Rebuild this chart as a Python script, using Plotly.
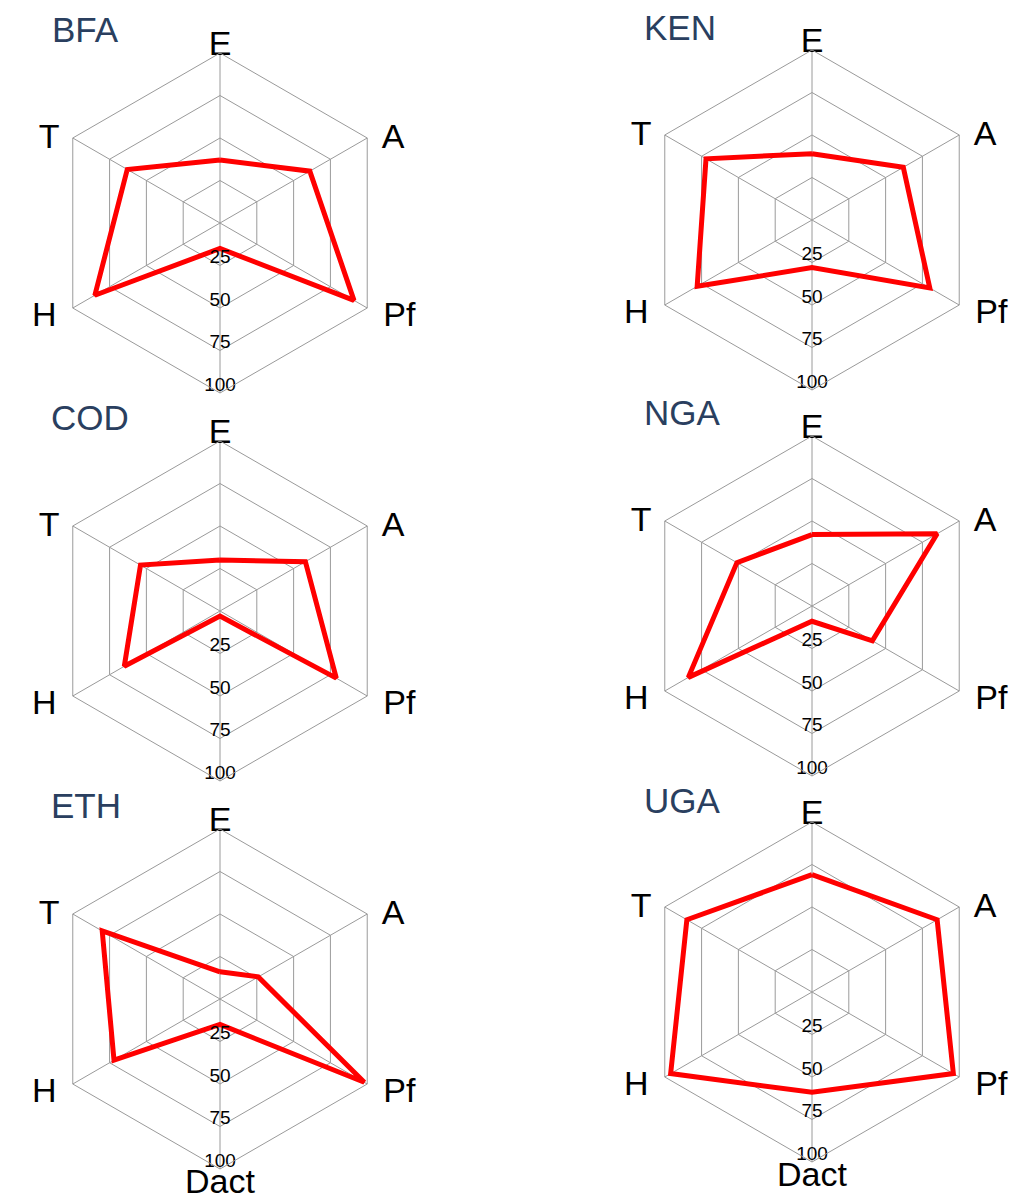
import plotly.graph_objects as go

# ---- data ----
categories = ["E", "A", "Pf", "Dact", "H", "T"]
countries = ["BFA", "KEN", "COD", "NGA", "ETH", "UGA"]
bfa = [37, 61, 91, 15, 85, 63]
ken = [39, 62, 80, 28, 78, 72]
cod = [30, 58, 79, 3, 65, 54]
nga = [42, 85, 41, 9, 84, 51]
eth = [16, 26, 98, 15, 72, 80]
uga = [69, 85, 96, 59, 96, 85]
values = [bfa, ken, cod, nga, eth, uga]
radial_ticks = [25, 50, 75, 100]

# ---- layout geometry (screen pixels; page has an 8px body margin) ----
OFF = 8
W, H = 1013, 1186
R = 170
centers = [(220, 223), (812, 220), (220, 611), (812, 606), (220, 999), (812, 992)]
title_pos = [(50, 29), (642, 27), (49, 417), (642, 412), (49, 805), (642, 800)]
FONT = "Liberation Sans, Arial, Helvetica, sans-serif"
LABEL_PX = 34
TICK_PX = 19


def px(x):
    return (x - OFF) / W


def py(y):
    return 1 - (y - OFF) / H


def span(txt, size):
    return f'<span style="font-size:{size}px">{txt}</span>'


NB = "\u00a0"
# per-category label placement: (textposition, offset font size, text)
label_spec = {
    "E": ("middle center", 8, span("E", LABEL_PX)),
    "A": ("middle right", 40, span(NB, 52) + span("A", LABEL_PX)),
    "Pf": ("middle right", 72, span(NB, 58) + span("Pf", LABEL_PX)),
    "Dact": ("bottom center", 32, span("Dact", LABEL_PX)),
    "H": ("middle left", 72, span("H", LABEL_PX) + span(NB, 58)),
    "T": ("middle left", 40, span("T", LABEL_PX) + span(NB, 48)),
}

fig = go.Figure()
layout = dict(
    width=W, height=H,
    margin=dict(l=0, r=0, t=0, b=0),
    paper_bgcolor="white",
    showlegend=False,
    font=dict(family=FONT, color="black"),
    annotations=[],
)

for i, (name, vals) in enumerate(zip(countries, values)):
    pid = "polar" if i == 0 else f"polar{i+1}"
    cx, cy = centers[i]
    fig.add_trace(go.Scatterpolar(
        r=vals + [vals[0]],
        theta=categories + [categories[0]],
        mode="lines",
        line=dict(color="#ff0000", width=5),
        subplot=pid,
        hoverinfo="skip",
    ))
    # angular (category) labels at the outer ring
    for cat in categories:
        pos, fsz, txt = label_spec[cat]
        clipped = (cat == "Dact" and i < 4)  # cut off in the upper rows
        fig.add_trace(go.Scatterpolar(
            r=[100], theta=[cat], mode="text", text=[txt],
            textposition=pos,
            textfont=dict(size=fsz, color="black", family=FONT),
            cliponaxis=clipped, subplot=pid, hoverinfo="skip",
        ))
    # radial tick labels along the Dact spoke
    fig.add_trace(go.Scatterpolar(
        r=radial_ticks, theta=["Dact"] * len(radial_ticks), mode="text",
        text=[span(str(v), TICK_PX) for v in radial_ticks],
        textposition="top center",
        textfont=dict(size=10, color="black", family=FONT),
        cliponaxis=False, subplot=pid, hoverinfo="skip",
    ))
    layout[pid] = dict(
        domain=dict(x=[px(cx - R), px(cx + R)], y=[py(cy + R), py(cy - R)]),
        gridshape="linear",
        bgcolor="white",
        angularaxis=dict(
            rotation=90, direction="clockwise",
            categoryorder="array", categoryarray=categories,
            showline=True, linecolor="#9a9a9a", linewidth=1,
            gridcolor="#9a9a9a", gridwidth=1,
            ticks="", showticklabels=False,
        ),
        radialaxis=dict(
            range=[0, 100], angle=-90,
            tickvals=radial_ticks,
            showline=False, ticks="", showticklabels=False,
            gridcolor="#9a9a9a", gridwidth=1,
        ),
    )
    tx, ty = title_pos[i]
    layout["annotations"].append(dict(
        text=name, x=px(tx), y=py(ty), xref="paper", yref="paper",
        xanchor="left", yanchor="middle", showarrow=False,
        font=dict(size=35, color="#2a3f5f", family=FONT),
    ))

fig.update_layout(**layout)
fig.write_html("out.html")
